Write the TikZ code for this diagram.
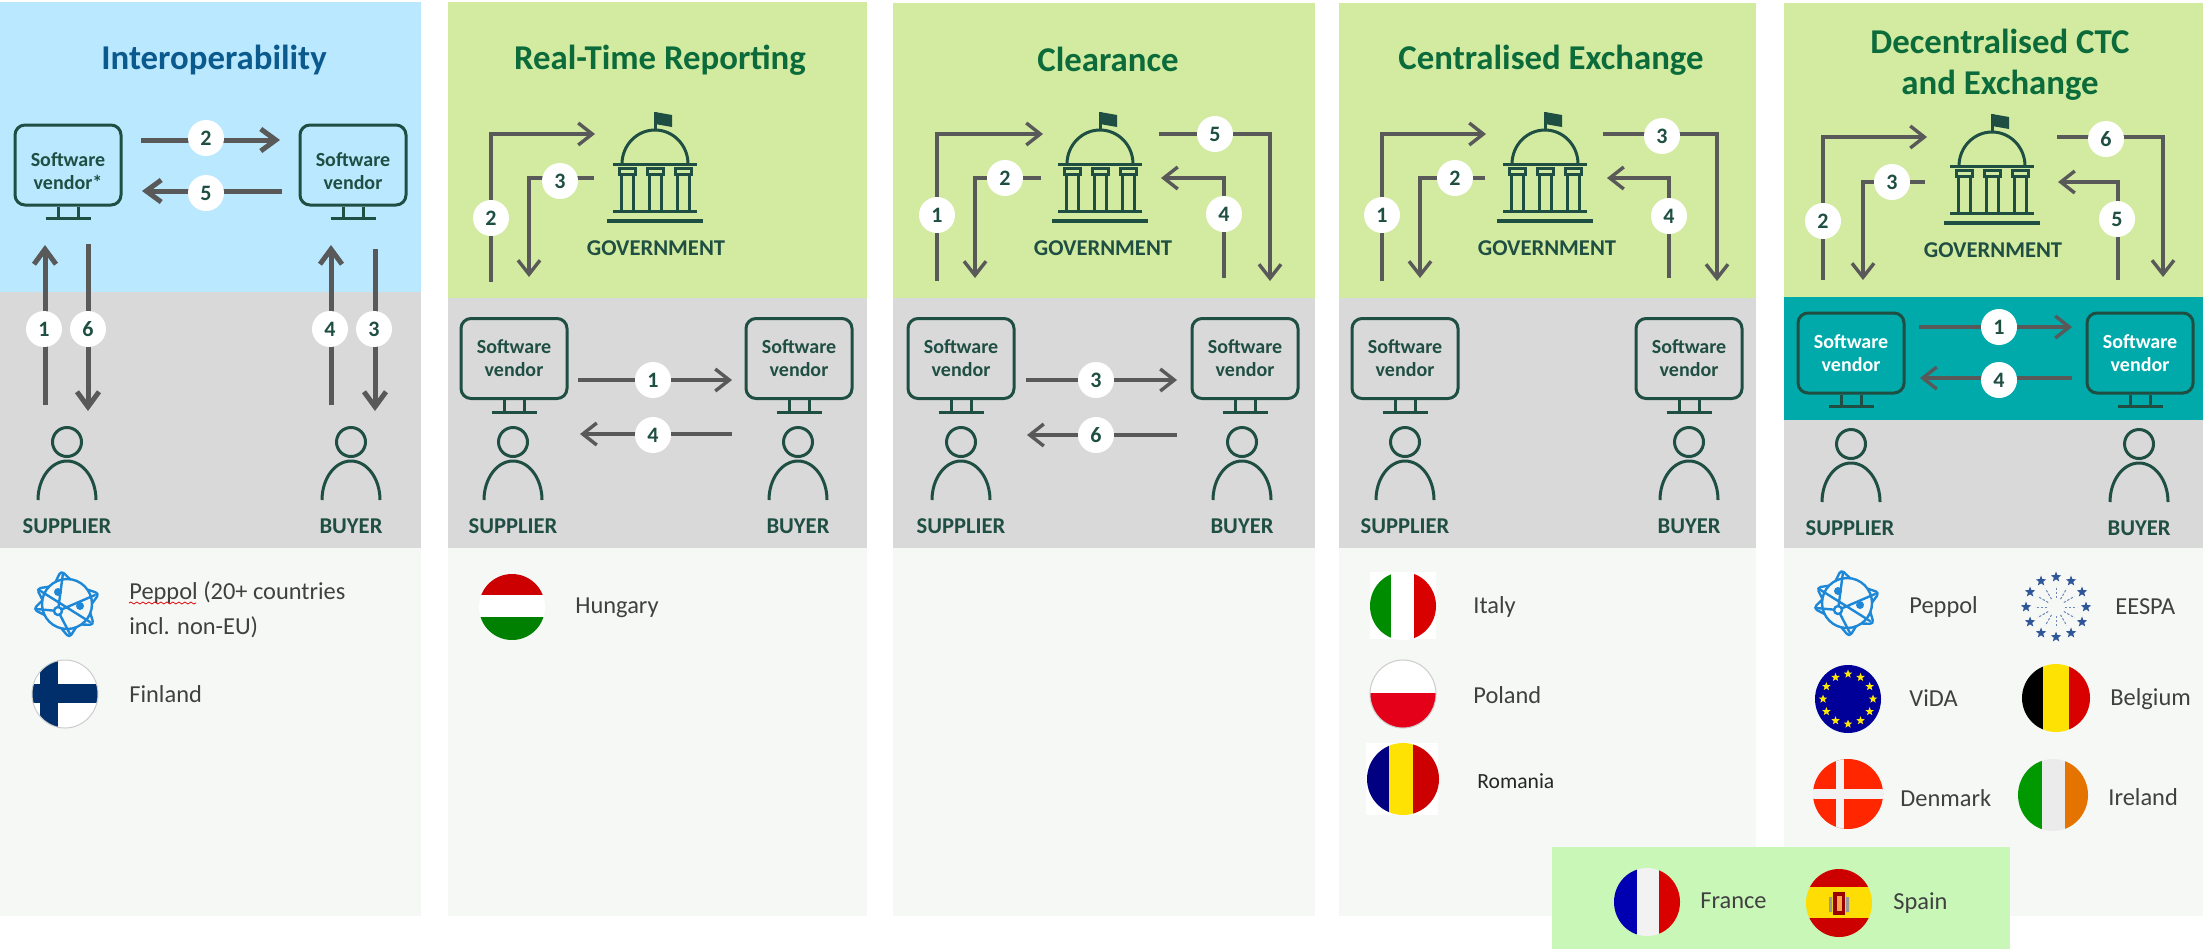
\documentclass[tikz,border=0pt]{standalone}
\usepackage{fontspec}
\setmainfont{Carlito}
\usetikzlibrary{arrows.meta,decorations.pathmorphing}

\definecolor{inkgreen}{RGB}{31,78,66}
\definecolor{flowgrey}{RGB}{89,89,89}
\definecolor{panelblue}{RGB}{186,232,255}
\definecolor{panelgreen}{RGB}{210,235,161}
\definecolor{panelgrey}{RGB}{217,217,217}
\definecolor{panellight}{RGB}{246,248,245}
\definecolor{panelteal}{RGB}{0,170,170}
\definecolor{boxgreen}{RGB}{200,247,184}
\definecolor{titleblue}{RGB}{11,90,142}
\definecolor{titlegreen}{RGB}{11,107,58}
\definecolor{peppolblue}{RGB}{30,136,216}
\definecolor{eesblue}{RGB}{46,85,151}
\definecolor{finnblue}{RGB}{0,47,108}

\tikzset{
  titletext/.style={font=\fontsize{17.4}{20.5}\selectfont\bfseries,align=center},
  caption/.style={font=\fontsize{11.3}{13}\selectfont\bfseries,text=inkgreen},
  listtext/.style={font=\fontsize{12.2}{17.5}\selectfont,text=black!75,anchor=west,inner sep=0pt,align=left},
  icon/.style={draw=inkgreen,line width=1.5pt},
  monitor/.style={icon,rounded corners=5pt,minimum width=53pt,minimum height=40pt,inner sep=0pt,
    align=center,text=inkgreen,font=\fontsize{10}{11.5}\selectfont\bfseries},
  monitorteal/.style={monitor,fill=panelteal,text=white},
  head/.style={icon,circle,minimum size=14.5pt,inner sep=0pt},
  thinflow/.style={draw=flowgrey,line width=1.7pt,-{Straight Barb[length=7pt,width=11pt]}},
  boldflow/.style={draw=flowgrey,line width=2.5pt,-{Straight Barb[length=7.5pt,width=11pt]}},
  badge/.style={circle,fill=white,inner sep=0pt,minimum size=18pt,text=inkgreen,
    font=\fontsize{11}{12}\selectfont\bfseries},
}

% screen with its stand
\newcommand{\monitor}[4][monitor]{
  \node[#1] (#2) at (#3) {#4};
  \draw[icon] ([xshift=-5pt]#2.south) -- ++(0,12) ([xshift=5pt]#2.south) -- ++(0,12);
  \draw[icon] ([xshift=-11.25pt]#2.south) ++(0,12) -- ++(45,0);
}
% head and shoulders
\newcommand{\person}[3]{
  \node[head] (#1) at (#2,#3) {};
  \draw[icon] (#2-29,#3+58) arc[start angle=180,end angle=360,x radius=29,y radius=39];
}
% numbered connector: style, name, start, path operator, end, badge position, number
\newcommand{\flow}[7][thinflow]{
  \coordinate (#2s) at (#3);
  \coordinate (#2e) at (#5);
  \draw[#1] (#2s) #4 (#2e);
  \node[badge] (#2) at (#6) {#7};
}
% building, given the middle of its bottom plate
\newcommand{\government}[2]{
  \begin{scope}[shift={(#1,#2)}]
    \draw[icon] (-33,-57) arc[start angle=180,end angle=360,x radius=33,y radius=34];
    \draw[icon] (0,-91) -- (0,-109);
    \fill[inkgreen] (0,-109) -- (17,-106) -- (17,-94) -- (0,-97) -- cycle;
    \draw[icon] (-42,-57) -- (42,-57);
    \foreach \cx in {-28,0,28} {
      \draw[icon] (\cx-8,-53) rectangle (\cx+8,-47);
      \draw[icon] (\cx-6,-47) -- (\cx-6,-10) (\cx+6,-47) -- (\cx+6,-10);
    }
    \draw[icon] (-42,-10) -- (42,-10);
    \draw[draw=inkgreen,line width=2pt] (-48,0) -- (48,0);
  \end{scope}
}
% round flag: centre, radii, then what it shows
\newcommand{\flag}[5]{
  \begin{scope}[shift={(#1,#2)}]
    \clip (0,0) ellipse [x radius=#3,y radius=#4];
    #5
  \end{scope}
}
\newcommand{\vbands}[5]{
  \fill[#1] (-40,-40) rectangle (#2,40);
  \fill[#3] (#2,-40) rectangle (#4,40);
  \fill[#5] (#4,-40) rectangle (40,40);
}
\newcommand{\hbands}[5]{
  \fill[#1] (-40,-40) rectangle (40,#2);
  \fill[#3] (-40,#2) rectangle (40,#4);
  \fill[#5] (-40,#4) rectangle (40,40);
}
\newcommand{\starmark}[4]{
  \fill[#4,shift={(#1,#2)}] (270:#3) -- (306:#3*0.42) -- (342:#3) -- (18:#3*0.42) -- (54:#3)
    -- (90:#3*0.42) -- (126:#3) -- (162:#3*0.42) -- (198:#3) -- (234:#3*0.42) -- cycle;
}
\newcommand{\peppolicon}[2]{
  \begin{scope}[shift={(#1,#2)},draw=peppolblue,fill=peppolblue,line width=1.2pt,line join=round,line cap=round]
    \draw (0,0) circle (25);
    \foreach \a in {260,342,38,86,171,207} {
      \draw[rounded corners=2pt] (\a-17:25) -- (\a:34) -- (\a+17:25) ;
    }
    \draw (-4,-31) -- (-9,7) -- (28,-9) (-9,7) -- (3,30) (-9,7) -- (-31,5) (-28,-14) -- (23,18);
    \filldraw[fill=panellight] (-9,7) circle (4);
    \fill (-9,-12) circle (4) (13,2) circle (4);
  \end{scope}
}

\begin{document}
\begin{tikzpicture}[x=0.5pt,y=0.5pt,yscale=-1,xscale=1]
\useasboundingbox (0,0) rectangle (2203,949);

% Panels
\fill[panelblue] (0,2) rectangle (421,292);
\fill[panelgrey] (0,292) rectangle (421,548);
\fill[panellight] (0,548) rectangle (421,916);
\fill[panelgreen] (448,2) rectangle (867,298);
\fill[panelgrey] (448,298) rectangle (867,548);
\fill[panellight] (448,548) rectangle (867,916);
\fill[panelgreen] (893,3) rectangle (1315,298);
\fill[panelgrey] (893,298) rectangle (1315,548);
\fill[panellight] (893,548) rectangle (1315,916);
\fill[panelgreen] (1339,3) rectangle (1756,298);
\fill[panelgrey] (1339,298) rectangle (1756,548);
\fill[panellight] (1339,548) rectangle (1756,916);
\fill[panelgreen] (1784,3) rectangle (2203,297);
\fill[panelteal] (1784,297) rectangle (2203,420);
\fill[panelgrey] (1784,420) rectangle (2203,548);
\fill[panellight] (1784,548) rectangle (2203,916);
\fill[boxgreen] (1552,847) rectangle (2010,949);

% Titles
\node[titletext,text=titleblue] (title1) at (214,60) {Interoperability};
\node[titletext,text=titlegreen] (title2) at (660,60) {Real-Time Reporting};
\node[titletext,text=titlegreen] (title3) at (1108,59) {Clearance};
\node[titletext,text=titlegreen] (title4) at (1551,60) {Centralised Exchange};
\node[titletext,text=titlegreen] (title5) at (2000,65) {Decentralised CTC\\and Exchange};

% Interoperability
\monitor{vendor1a}{68,165}{\rule{0pt}{13pt}Software\\vendor*}
\monitor{vendor1b}{353,165}{\rule{0pt}{13pt}Software\\vendor}
\person{supplier1}{67}{442}
\person{buyer1}{351}{442}
\flow[boldflow]{flow1a}{45,405}{--}{45,245}{44,329}{1}
\flow[boldflow]{flow1b}{141,140}{--}{280,140}{206,138}{2}
\flow[boldflow]{flow1c}{375,249}{--}{375,411}{374,329}{3}
\flow[boldflow]{flow1d}{331,405}{--}{331,245}{330,329}{4}
\flow[boldflow]{flow1e}{282,191}{--}{142,191}{206,193}{5}
\flow[boldflow]{flow1f}{88,244}{--}{88,411}{88,329}{6}
\node[caption] (sup1) at (67,526) {SUPPLIER};
\node[caption] (buy1) at (351,526) {BUYER};

% Real-Time Reporting
\government{655}{221}
\node[caption] (gov2) at (656,248) {GOVERNMENT};
\monitor{vendor2a}{514,358.5}{Software\\vendor}
\monitor{vendor2b}{799,358.5}{Software\\vendor}
\person{supplier2}{513}{442}
\person{buyer2}{798}{442}
\flow{flow2a}{578,380}{--}{732,380}{653,380}{1}
\flow{flow2b}{491,282}{|-}{595,134}{491,218}{2}
\flow{flow2c}{594,178}{-|}{529,277}{560,181}{3}
\flow{flow2d}{732,434}{--}{580,434}{653,435}{4}
\node[caption] (sup2) at (513,526) {SUPPLIER};
\node[caption] (buy2) at (798,526) {BUYER};

% Clearance
\government{1100}{221}
\node[caption] (gov3) at (1103,248) {GOVERNMENT};
\monitor{vendor3a}{961,358.5}{Software\\vendor}
\monitor{vendor3b}{1245,358.5}{Software\\vendor}
\person{supplier3}{961}{442}
\person{buyer3}{1242}{442}
\flow{flow3a}{937,281}{|-}{1043,134}{937,215}{1}
\flow{flow3b}{1041,178}{-|}{975,278}{1005,178}{2}
\flow{flow3c}{1026,380}{--}{1177,380}{1096,380}{3}
\flow{flow3d}{1224,278}{|-}{1161,178}{1224,214}{4}
\flow{flow3e}{1159,134}{-|}{1270,281}{1215,134}{5}
\flow{flow3f}{1177,435}{--}{1027,435}{1096,435}{6}
\node[caption] (sup3) at (961,526) {SUPPLIER};
\node[caption] (buy3) at (1242,526) {BUYER};

% Centralised Exchange
\government{1545}{221}
\node[caption] (gov4) at (1547,248) {GOVERNMENT};
\monitor{vendor4a}{1405,358.5}{Software\\vendor}
\monitor{vendor4b}{1689,358.5}{Software\\vendor}
\person{supplier4}{1405}{442}
\person{buyer4}{1689}{442}
\flow{flow4a}{1382,281}{|-}{1486,134}{1382,215}{1}
\flow{flow4b}{1485,178}{-|}{1420,278}{1455,178}{2}
\flow{flow4c}{1603,134}{-|}{1717,281}{1662,136}{3}
\flow{flow4d}{1669,278}{|-}{1607,178}{1669,216}{4}
\node[caption] (sup4) at (1405,526) {SUPPLIER};
\node[caption] (buy4) at (1689,526) {BUYER};

% Decentralised CTC and Exchange
\government{1992}{223}
\node[caption] (gov5) at (1993,250) {GOVERNMENT};
\monitor[monitorteal]{vendor5a}{1851,353}{Software\\vendor}
\monitor[monitorteal]{vendor5b}{2140,353}{Software\\vendor}
\person{supplier5}{1851}{444}
\person{buyer5}{2139}{444}
\flow{flow5a}{1919,327}{--}{2072,327}{1999,327}{1}
\flow{flow5b}{1823,280}{|-}{1927,137}{1823,221}{2}
\flow{flow5c}{1925,182}{-|}{1863,280}{1892,182}{3}
\flow{flow5d}{2072,378}{--}{1920,378}{1999,380}{4}
\flow{flow5e}{2118,280}{|-}{2058,182}{2117,219}{5}
\flow{flow5f}{2057,137}{-|}{2163,277}{2106,139}{6}
\node[caption] (sup5) at (1850,528) {SUPPLIER};
\node[caption] (buy5) at (2139,528) {BUYER};

% Lists below the panels
\peppolicon{67}{604}
\node[listtext] (peppol1) at (129,609.5) {Peppol (20+ countries\\incl. non-EU)};
\draw[red!85!black,line width=0.4pt,decorate,decoration={snake,amplitude=0.5pt,segment length=3pt}] (129,603) -- (196,603);
\flag{65}{694}{33}{34}{
  \fill[white] (-40,-40) rectangle (40,40);
  \fill[finnblue] (-25,-40) rectangle (-7,40);
  \fill[finnblue] (-40,-10) rectangle (40,9);
}
\draw[black!20,line width=0.5pt] (65,694) ellipse [x radius=33,y radius=34];
\node[listtext] (finland) at (129,694) {Finland};

\flag{512}{607}{33}{33}{\hbands{red!80!black}{-12}{white}{10}{green!50!black}}
\node[listtext] (hungary) at (575,608) {Hungary};

\fill[white] (1370,572) rectangle (1436,639);
\flag{1403}{606}{33}{34}{\vbands{green!55!black}{-12}{white}{11}{red!85!black}}
\node[listtext] (italy) at (1473,607) {Italy};
\flag{1403}{694}{33}{34}{\hbands{white}{-1}{white}{-1}{red!90!blue}}
\draw[black!20,line width=0.5pt] (1403,694) ellipse [x radius=33,y radius=34];
\node[listtext] (poland) at (1473,695) {Poland};
\fill[white] (1366,743) rectangle (1438,815);
\flag{1403}{779}{36}{36}{\vbands{blue!50!black}{-14}{yellow!85!orange}{10}{red!80!black}}
\node[listtext,font=\fontsize{10.8}{12}\selectfont,text=black!85] (romania) at (1477,781) {Romania};

\peppolicon{1847}{603}
\node[listtext] (peppol5) at (1909,607) {Peppol};
\begin{scope}[shift={(2056,607)}]
  \foreach \a in {0,30,...,330} {
    \starmark{{30*cos(\a)}}{{30*sin(\a)}}{5.5}{eesblue}
    \draw[eesblue!70,line width=0.5pt,dash pattern=on 1.2pt off 0.8pt] (\a:9) -- (\a:21);
  }
\end{scope}
\node[listtext] (eespa) at (2115,607) {EESPA};
\flag{1848}{699}{33}{34}{
  \fill[blue!60!black] (-40,-40) rectangle (40,40);
  \foreach \a in {0,30,...,330} {
    \starmark{{25*cos(\a)}}{{25*sin(\a)}}{4.5}{yellow!90!orange}
  }
}
\node[listtext] (vida) at (1909,698) {ViDA};
\flag{2056}{698}{34}{34}{\vbands{black}{-13}{yellow!85!orange}{13}{red!85!black}}
\node[listtext] (belgium) at (2110,699) {Belgium};
\flag{1848}{794}{35}{35}{
  \fill[orange!30!red] (-40,-40) rectangle (40,40);
  \fill[black!5] (-12,-40) rectangle (-4,40);
  \fill[black!5] (-40,-5) rectangle (40,5);
}
\node[listtext] (denmark) at (1900,798) {Denmark};
\flag{2053}{795}{35}{36}{\vbands{green!60!black}{-11}{black!8}{12}{orange!90!black}}
\node[listtext] (ireland) at (2108,797) {Ireland};

\flag{1647}{902}{33}{34}{\vbands{blue!70!black}{-10}{black!5}{12}{red!85!black}}
\node[listtext] (france) at (1700,901) {France};
\flag{1839}{903}{33}{34}{
  \hbands{red!80!black}{-16}{yellow!80!orange}{15}{red!80!black}
  \fill[red!60!black] (-6,-11) rectangle (6,12);
  \fill[orange!70!white] (-2,-7) rectangle (3,8);
  \fill[black!40] (-10,-6) rectangle (-7,9) (7,-6) rectangle (10,9);
}
\node[listtext] (spain) at (1893,903) {Spain};

\end{tikzpicture}
\end{document}
